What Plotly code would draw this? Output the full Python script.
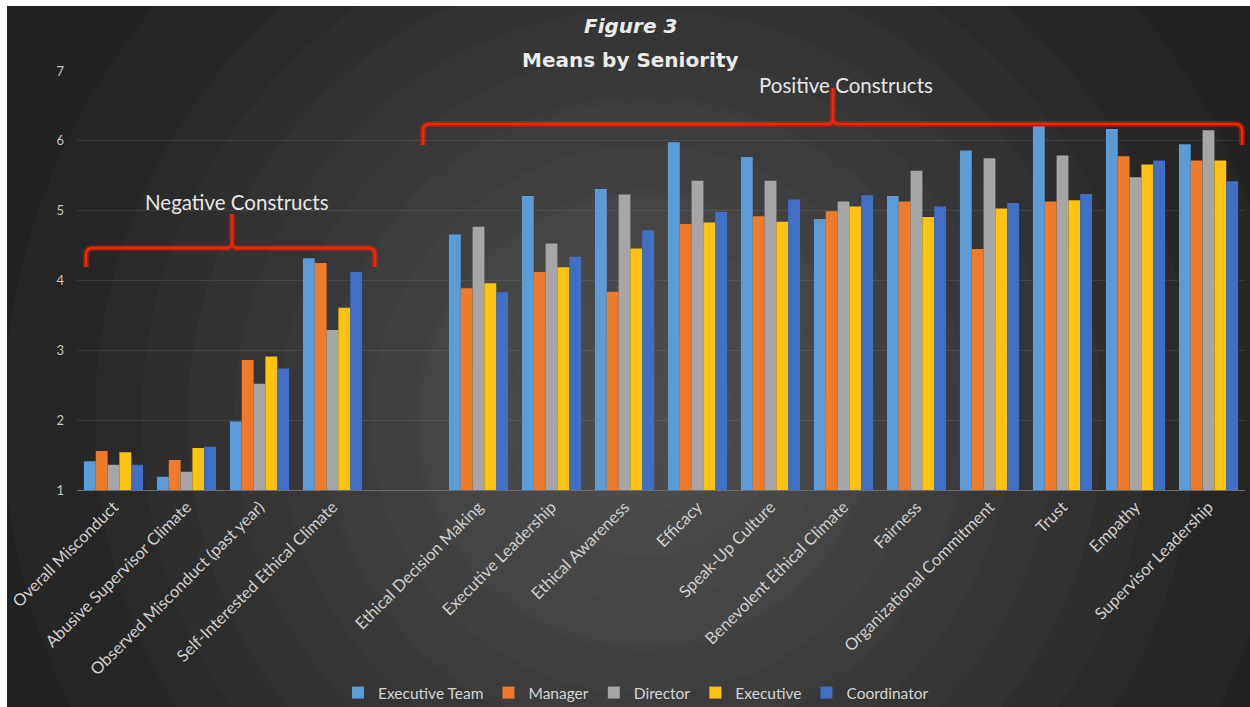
import base64
import plotly.graph_objects as go

# ---- data -------------------------------------------------------------
categories = [
    "Overall Misconduct", "Abusive Supervisor Climate",
    "Observed Misconduct (past year)", "Self-Interested Ethical Climate",
    " ",
    "Ethical Decision Making", "Executive Leadership", "Ethical Awareness",
    "Efficacy", "Speak-Up Culture", "Benevolent Ethical Climate", "Fairness",
    "Organizational Commitment", "Trust", "Empathy", "Supervisor Leadership",
]

executive_team = [1.41, 1.19, 1.98, 4.32, None, 4.66, 5.21, 5.31, 5.98, 5.77,
                  4.88, 5.21, 5.86, 6.21, 6.17, 5.95]
manager = [1.56, 1.43, 2.86, 4.25, None, 3.89, 4.12, 3.84, 4.81, 4.92,
           4.99, 5.13, 4.45, 5.13, 5.78, 5.72]
director = [1.36, 1.26, 2.52, 3.29, None, 4.77, 4.53, 5.23, 5.43, 5.43,
            5.13, 5.57, 5.75, 5.79, 5.48, 6.15]
executive = [1.54, 1.60, 2.91, 3.61, None, 3.96, 4.19, 4.46, 4.83, 4.84,
             5.06, 4.91, 5.03, 5.15, 5.66, 5.72]
coordinator = [1.36, 1.62, 2.74, 4.12, None, 3.83, 4.34, 4.72, 4.98, 5.16,
               5.22, 5.06, 5.11, 5.24, 5.72, 5.42]

series_names = ["Executive Team", "Manager", "Director", "Executive", "Coordinator"]
series_values = [executive_team, manager, director, executive, coordinator]
series_colors = ["#5a9bd8", "#ef7b2a", "#a6a6a6", "#ffc20e", "#3f70c6"]

y_ticks = [1, 2, 3, 4, 5, 6, 7]

# ---- canvas geometry ---------------------------------------------------
W, H = 1250, 707
L, R, T, B = 77, 5, 71, 217
PW, PH = W - L - R, H - T - B


def fx(px):
    return (px - L) / PW


def fy(py):
    return (H - B - py) / PH


# ---- dark radial backdrop with soft rings -------------------------------
bg_x0, bg_y0 = 7, 6
bg_w, bg_h = W - bg_x0, H - bg_y0
cx, cy, rad = 645 - bg_x0, 420 - bg_y0, 780
levels = [0x4e, 0x4c, 0x4a, 0x47, 0x44, 0x41, 0x3d, 0x39, 0x35, 0x31,
          0x2e, 0x2b, 0x28, 0x26, 0x24, 0x22, 0x20]
stops = []
n = len(levels)
for i, v in enumerate(levels):
    a = i / n
    b = (i + 1) / n
    c = "#%02x%02x%02x" % (v, v, v)
    stops.append('<stop offset="%.4f" stop-color="%s"/>' % (a, c))
    stops.append('<stop offset="%.4f" stop-color="%s"/>' % (b - 0.004, c))
svg = (
    '<svg xmlns="http://www.w3.org/2000/svg" width="%d" height="%d">'
    '<defs><radialGradient id="g" gradientUnits="userSpaceOnUse" '
    'cx="%d" cy="%d" r="%d">%s</radialGradient>'
    '<filter id="s"><feGaussianBlur stdDeviation="5"/></filter></defs>'
    '<rect width="%d" height="%d" fill="#1f1f1f"/>'
    '<rect x="-20" y="-20" width="%d" height="%d" fill="url(#g)" filter="url(#s)"/>'
    '</svg>'
) % (bg_w, bg_h, cx, cy, rad, "".join(stops), bg_w, bg_h, bg_w + 40, bg_h + 40)
bg_uri = "data:image/svg+xml;base64," + base64.b64encode(svg.encode()).decode()

fig = go.Figure()

for name, vals, col in zip(series_names, series_values, series_colors):
    fig.add_trace(go.Bar(
        name=name, x=categories, y=vals,
        marker=dict(color=col, line=dict(width=0)),
    ))

# ---- brackets ----------------------------------------------------------
def bracket(x0, x1, xm, ybar, yend, ytip, r=7):
    pts = [
        ("M", (x0, yend)), ("L", (x0, ybar + r)),
        ("Q", (x0, ybar), (x0 + r, ybar)),
        ("L", (xm - 5, ybar)), ("Q", (xm, ybar), (xm, ybar - 6)),
        ("L", (xm, ytip)), ("L", (xm, ybar - 6)),
        ("Q", (xm, ybar), (xm + 5, ybar)),
        ("L", (x1 - r, ybar)), ("Q", (x1, ybar), (x1, ybar + r)),
        ("L", (x1, yend)),
    ]
    out = []
    for item in pts:
        cmd = item[0]
        coords = " ".join("%.5f,%.5f" % (fx(px), fy(py)) for px, py in item[1:])
        out.append(cmd + coords)
    return " ".join(out)


shapes = []
for args in [(86, 375, 232, 248, 267, 214), (423, 1242, 833, 124, 145, 88)]:
    p = bracket(*args)
    shapes.append(dict(type="path", path=p, xref="paper", yref="paper",
                       line=dict(color="rgba(255,40,0,0.35)", width=6)))
    shapes.append(dict(type="path", path=p, xref="paper", yref="paper",
                       line=dict(color="#ff2200", width=2.6)))

annotations = [
    dict(text="<b><i>Figure 3</i></b>", x=fx(630), y=fy(26),
         font=dict(family="DejaVu Sans", size=20, color="#ebebeb")),
    dict(text="<b>Means by Seniority</b>", x=fx(630), y=fy(60),
         font=dict(family="DejaVu Sans", size=20, color="#ebebeb")),
    dict(text="Negative Constructs", x=fx(237), y=fy(202),
         font=dict(family="Lato", size=20.5, color="#e6e6e6")),
    dict(text="Positive Constructs", x=fx(846), y=fy(85),
         font=dict(family="Lato", size=20.5, color="#e6e6e6")),
]
for a in annotations:
    a.update(xref="paper", yref="paper", showarrow=False,
             xanchor="center", yanchor="middle")

fig.update_layout(
    width=W, height=H,
    margin=dict(l=L, r=R, t=T, b=B, autoexpand=False),
    paper_bgcolor="#ffffff",
    plot_bgcolor="rgba(0,0,0,0)",
    barmode="group", bargap=0.19, bargroupgap=0,
    font=dict(family="Lato", color="#d4d4d4"),
    showlegend=True,
    legend=dict(orientation="h", x=fx(636), y=fy(693), xanchor="center",
                yanchor="middle", bgcolor="rgba(0,0,0,0)",
                font=dict(family="Lato", size=15.5, color="#d4d4d4"),
                itemwidth=30, traceorder="normal"),
    xaxis=dict(type="category", categoryorder="array", categoryarray=categories,
               range=[-0.5, len(categories) - 0.5], tickangle=-45,
               tickfont=dict(family="Lato", size=16.5, color="#d0d0d0"),
               showgrid=False, showline=True, linecolor="#6e6e6e", linewidth=1,
               ticks="", zeroline=False, fixedrange=True),
    yaxis=dict(range=[1, 7], tickvals=y_ticks, ticktext=[str(v) for v in y_ticks],
               tickfont=dict(family="Lato", size=13, color="#c8c8c8"),
               showgrid=True, gridcolor="rgba(255,255,255,0.09)", gridwidth=1,
               zeroline=False, showline=False, ticks="", ticklabelstandoff=12),
    shapes=shapes,
    annotations=annotations,
    images=[dict(source=bg_uri, xref="paper", yref="paper",
                 x=fx(bg_x0), y=fy(bg_y0), sizex=bg_w / PW, sizey=bg_h / PH,
                 sizing="stretch", xanchor="left", yanchor="top",
                 layer="below", opacity=1)],
)

fig.write_html("out.html")
